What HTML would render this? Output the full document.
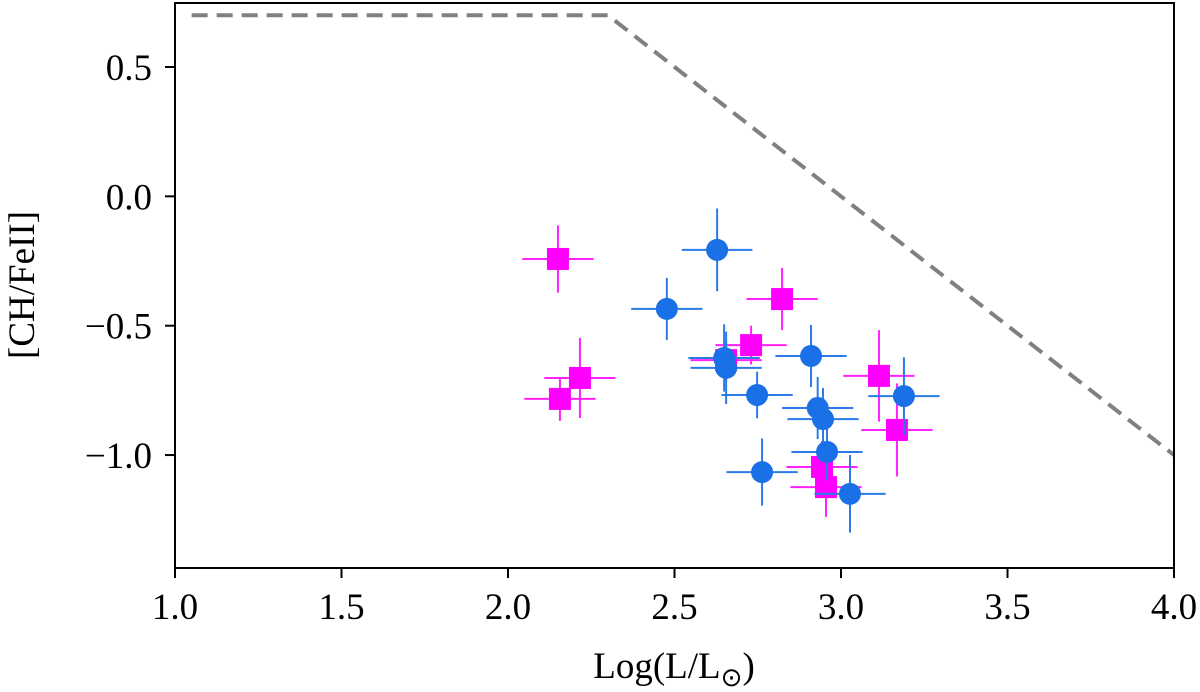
<!DOCTYPE html>
<html><head><meta charset="utf-8"><style>
html,body{margin:0;padding:0;background:#fff;}
svg{display:block;font-family:"Liberation Serif",serif;}
</style></head><body>
<svg id="chart" width="1200" height="692" viewBox="0 0 1200 692" xmlns="http://www.w3.org/2000/svg">
<g id="marks"></g>
<g id="axes"></g>
</svg>
<script>
const xTicks=[1.0,1.5,2.0,2.5,3.0,3.5,4.0];
const xTickLabels=["1.0","1.5","2.0","2.5","3.0","3.5","4.0"];
const yTicks=[0.5,0.0,-0.5,-1.0];
const yTickLabels=["0.5","0.0","\u22120.5","\u22121.0"];
const limitX=[1.05,2.3,4.0];
const limitY=[0.7,0.7,-1.0];
const sqX=[2.15,2.216,2.156,2.823,2.73,2.655,3.114,3.168,2.943,2.955];
const sqY=[-0.242,-0.702,-0.783,-0.397,-0.575,-0.633,-0.694,-0.903,-1.046,-1.124];
const sqXErr=[0.107,0.107,0.107,0.107,0.107,0.107,0.107,0.107,0.107,0.107];
const sqYErr=[0.13,0.155,0.085,0.12,0.075,0.08,0.177,0.18,0.1,0.115];
const ciX=[2.628,2.477,2.649,2.655,2.748,2.91,2.93,2.946,2.958,3.189,2.763,3.027];
const ciY=[-0.207,-0.435,-0.625,-0.663,-0.768,-0.617,-0.818,-0.861,-0.988,-0.772,-1.066,-1.15];
const ciXErr=[0.106,0.107,0.107,0.107,0.107,0.107,0.107,0.107,0.107,0.107,0.107,0.107];
const ciYErr=[0.16,0.12,0.13,0.14,0.09,0.12,0.12,0.12,0.11,0.15,0.13,0.15];

const L=175,R=1174,T=3,B=568;
const xS=v=>L+(v-1.0)*(R-L)/3.0;
const yS=v=>67+(0.5-v)*258.7;
const NS="http://www.w3.org/2000/svg";
const marks=document.getElementById('marks'), axes=document.getElementById('axes');
function mk(tag,attrs,parent){const e=document.createElementNS(NS,tag);for(const k in attrs)e.setAttribute(k,attrs[k]);parent.appendChild(e);return e;}

let d=limitX.map((x,i)=>(i?'L':'M')+xS(x)+' '+yS(limitY[i])).join(' ');
const lim=mk('path',{d:d,fill:'none',stroke:'#808080','stroke-width':4,'stroke-dasharray':'16,9'},marks);



function errbars(xs,ys,xe,ye,color,name){
  xs.forEach((x,i)=>{
    const g=mk('g',{},marks);
    
    
    mk('line',{x1:xS(x-xe[i]),x2:xS(x+xe[i]),y1:yS(ys[i]),y2:yS(ys[i]),stroke:color,'stroke-width':2},g);
    mk('line',{x1:xS(x),x2:xS(x),y1:yS(ys[i]-ye[i]),y2:yS(ys[i]+ye[i]),stroke:color,'stroke-width':2},g);
  });
}
errbars(sqX,sqY,sqXErr,sqYErr,'#ff22ff','square');
sqX.forEach((x,i)=>{
  const s=mk('rect',{x:xS(x)-11,y:yS(sqY[i])-11,width:22,height:22,fill:'#ff00ff'},marks);
  
  
});
errbars(ciX,ciY,ciXErr,ciYErr,'#2a7be6','circle');
ciX.forEach((x,i)=>{
  const c=mk('circle',{cx:xS(x),cy:yS(ciY[i]),r:11,fill:'#1a70e6'},marks);
  
  
});

const fr=mk('rect',{x:L,y:T,width:R-L,height:B-T,fill:'none',stroke:'#000','stroke-width':2},axes);


xTicks.forEach((v,i)=>{
  const g=mk('g',{},axes);
  
  
  mk('line',{x1:xS(v),x2:xS(v),y1:B,y2:B+10,stroke:'#000','stroke-width':2},g);
  const t=mk('text',{x:xS(v),y:619,'text-anchor':'middle','font-size':37},g);
  t.textContent=xTickLabels[i];
});
yTicks.forEach((v,i)=>{
  const g=mk('g',{},axes);
  
  
  mk('line',{x1:L-10,x2:L,y1:yS(v),y2:yS(v),stroke:'#000','stroke-width':2},g);
  const t=mk('text',{x:152,y:yS(v)+13,'text-anchor':'end','font-size':37},g);
  t.textContent=yTickLabels[i];
});
const xl=mk('text',{x:674,y:678,'text-anchor':'middle','font-size':37},axes);


xl.innerHTML='Log(L/L<tspan font-size="26" dy="8">\u2299</tspan><tspan dy="-8">)</tspan>';
const yl=mk('text',{x:0,y:0,'text-anchor':'middle','font-size':37,transform:'translate(34,285) rotate(-90)'},axes);


yl.textContent='[CH/FeII]';
</script>
</body></html>
